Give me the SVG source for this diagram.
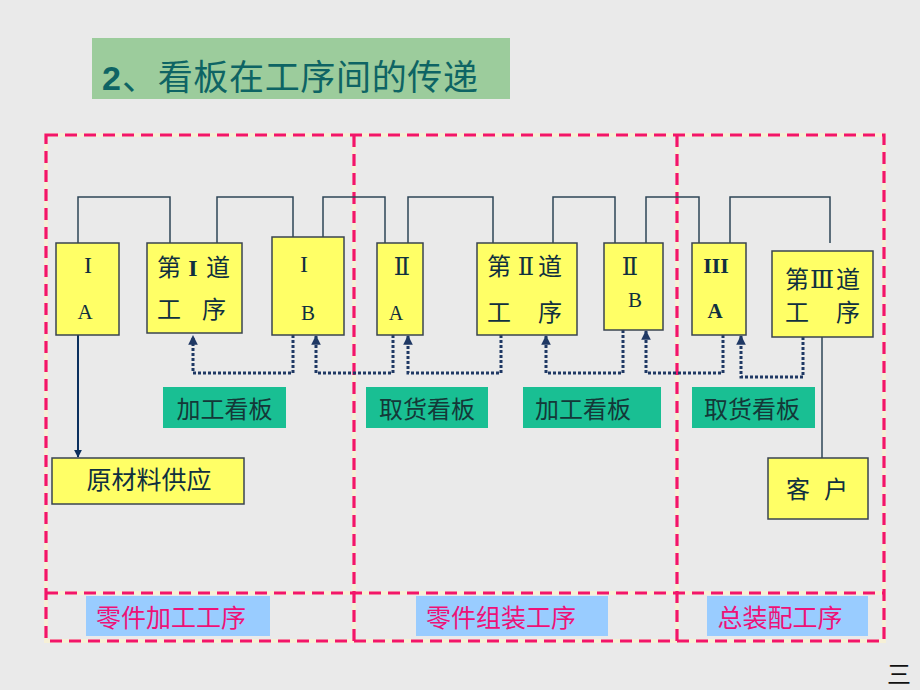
<svg xmlns="http://www.w3.org/2000/svg" width="920" height="690" viewBox="0 0 920 690">
<defs>
<marker id="ah" viewBox="0 0 10 10" refX="9" refY="5" markerWidth="3.2" markerHeight="3.2" orient="auto" markerUnits="strokeWidth">
<path d="M0,0 L10,5 L0,10 z" fill="#1F3864"/>
</marker>
<marker id="ah2" viewBox="0 0 10 10" refX="9" refY="5" markerWidth="4" markerHeight="4" orient="auto" markerUnits="strokeWidth">
<path d="M0,0 L10,5 L0,10 z" fill="#0B2F5E"/>
</marker>
</defs>
<style>
.halo{fill:none;stroke:#F6F0D6;stroke-width:4}
.dash{fill:none;stroke:#F2156B;stroke-width:3.2;stroke-dasharray:12 7}
.node{fill:#FFFF66;stroke:#3A4450;stroke-width:1.5}
.thin{fill:none;stroke:#2E4657;stroke-width:1.5}
.dot{fill:none;stroke:#1F3864;stroke-width:3;stroke-dasharray:3 2;marker-end:url(#ah)}
.ser{font-family:"Liberation Serif","DejaVu Serif","Noto Sans CJK SC",serif;fill:#10303F}
.cjk{font-family:"Noto Sans CJK SC","Noto Sans CJK TC",sans-serif;fill:#10303F}
.kb{fill:#19BF93}
.kbt{font-family:"Noto Sans CJK SC",sans-serif;font-size:24px;fill:#143838}
.blue{fill:#99CCFF}
.bt{font-family:"Noto Sans CJK SC",sans-serif;font-size:25px;fill:#EE1177}
</style>
<rect x="0" y="0" width="920" height="690" fill="#EAEAEA"/>

<g id="title">
<rect x="92" y="38" width="418" height="61" fill="#9CCC9C"/>
<text x="102" y="90" font-family="Liberation Sans,Arial,sans-serif" font-weight="bold" font-size="34" fill="#0E6464">2</text>
<text x="122" y="90" font-family="Noto Sans CJK SC,sans-serif" font-size="35" fill="#0E6464" textLength="356" lengthAdjust="spacing">、看板在工序间的传递</text>
</g>

<g id="regions">
<path class="halo" d="M46,135 H884 V641 H46 Z M46,593 H884 M354,135 V641 M677,135 V641"/>
<path class="dash" d="M46,135 H884 V641 H46 Z"/>
<path class="dash" d="M46,593 H884"/>
<path class="dash" d="M354,135 V641"/>
<path class="dash" d="M677,135 V641"/>
</g>

<g id="connectors">
<path class="thin" d="M78,243 V197 H170 V243"/>
<path class="thin" d="M217,243 V197 H293 V242"/>
<path class="thin" d="M323,242 V197 H385 V243"/>
<path class="thin" d="M408,243 V197 H493 V243"/>
<path class="thin" d="M553,243 V197 H615 V243"/>
<path class="thin" d="M646,243 V197 H699 V243"/>
<path class="thin" d="M730,243 V197 H830 V243" stroke="#1B3A55" stroke-width="2"/>
<path class="thin" d="M822,337 V458"/>
<path d="M78,335 V457" fill="none" stroke="#0B2F5E" stroke-width="2" marker-end="url(#ah2)"/>
<path class="dot" d="M293,335 V373 H193 V336"/>
<path class="dot" d="M393,335 V373 H316 V336"/>
<path class="dot" d="M501,335 V373 H408 V336"/>
<path class="dot" d="M623,330 V373 H546 V336"/>
<path class="dot" d="M723,335 V373 H646 V331"/>
<path class="dot" d="M803,337 V377 H741 V336"/>
</g>

<g id="IA">
<rect class="node" x="56" y="243" width="63" height="92"/>
<text class="ser" x="88" y="273" font-size="24" text-anchor="middle">I</text>
<text class="ser" x="85" y="319" font-size="21" text-anchor="middle">A</text>
</g>
<g id="P1">
<rect class="node" x="147" y="243" width="95" height="90"/>
<text class="cjk" x="157" y="276" font-size="24">第</text>
<text class="ser" x="193" y="276" font-size="24" font-weight="bold" text-anchor="middle">I</text>
<text class="cjk" x="206" y="276" font-size="24">道</text>
<text class="cjk" x="157" y="318" font-size="24">工</text>
<text class="cjk" x="202" y="318" font-size="24">序</text>
</g>
<g id="IB">
<rect class="node" x="272" y="237" width="72" height="98"/>
<text class="ser" x="304" y="272" font-size="24" text-anchor="middle">I</text>
<text class="ser" x="308" y="320" font-size="21" text-anchor="middle">B</text>
</g>
<g id="IIA">
<rect class="node" x="377" y="243" width="46" height="92"/>
<text class="ser" x="402" y="275" font-size="24" text-anchor="middle">Ⅱ</text>
<text class="ser" x="396" y="320" font-size="20" text-anchor="middle">A</text>
</g>
<g id="P2">
<rect class="node" x="477" y="243" width="100" height="92"/>
<text class="cjk" x="487" y="275" font-size="24">第</text>
<text class="ser" x="526" y="275" font-size="24" text-anchor="middle">Ⅱ</text>
<text class="cjk" x="538" y="275" font-size="24">道</text>
<text class="cjk" x="487" y="321" font-size="24">工</text>
<text class="cjk" x="538" y="321" font-size="24">序</text>
</g>
<g id="IIB">
<rect class="node" x="604" y="243" width="59" height="87"/>
<text class="ser" x="630" y="275" font-size="24" text-anchor="middle">Ⅱ</text>
<text class="ser" x="635" y="307" font-size="21" text-anchor="middle">B</text>
</g>
<g id="IIIA">
<rect class="node" x="692" y="243" width="54" height="92"/>
<text class="ser" x="716" y="273" font-size="22" font-weight="bold" text-anchor="middle">III</text>
<text class="ser" x="715" y="318" font-size="21" font-weight="bold" text-anchor="middle">A</text>
</g>
<g id="P3">
<rect class="node" x="772" y="251" width="101" height="86"/>
<text class="cjk" x="785" y="288" font-size="24">第</text>
<text class="ser" x="822" y="288" font-size="25" text-anchor="middle">Ⅲ</text>
<text class="cjk" x="836" y="288" font-size="24">道</text>
<text class="cjk" x="785" y="321" font-size="24">工</text>
<text class="cjk" x="836" y="321" font-size="24">序</text>
</g>
<g id="supply">
<rect class="node" x="52" y="458" width="192" height="46"/>
<text class="cjk" x="149" y="489" font-size="25" text-anchor="middle">原材料供应</text>
</g>
<g id="customer">
<rect class="node" x="768" y="458" width="100" height="61"/>
<text class="cjk" x="786" y="498" font-size="24">客</text>
<text class="cjk" x="824" y="498" font-size="24">户</text>
</g>

<g id="kanban-labels">
<rect class="kb" x="163" y="387" width="123" height="41"/>
<text class="kbt" x="224.5" y="418" text-anchor="middle">加工看板</text>
<rect class="kb" x="366" y="387" width="122" height="41"/>
<text class="kbt" x="427" y="418" text-anchor="middle">取货看板</text>
<rect class="kb" x="523" y="387" width="138" height="41"/>
<text class="kbt" x="583" y="418" text-anchor="middle">加工看板</text>
<rect class="kb" x="692" y="387" width="123" height="41"/>
<text class="kbt" x="752" y="418" text-anchor="middle">取货看板</text>
</g>

<g id="region-labels">
<rect class="blue" x="86" y="596" width="184" height="40"/>
<text class="bt" x="171" y="627" text-anchor="middle">零件加工工序</text>
<rect class="blue" x="416" y="596" width="192" height="40"/>
<text class="bt" x="501" y="627" text-anchor="middle">零件组装工序</text>
<rect class="blue" x="707" y="596" width="161" height="40"/>
<text class="bt" x="780" y="627" text-anchor="middle">总装配工序</text>
</g>

<text x="899" y="683" font-family="Noto Sans CJK SC,sans-serif" font-size="24" fill="#111111" text-anchor="middle">三</text>
</svg>
